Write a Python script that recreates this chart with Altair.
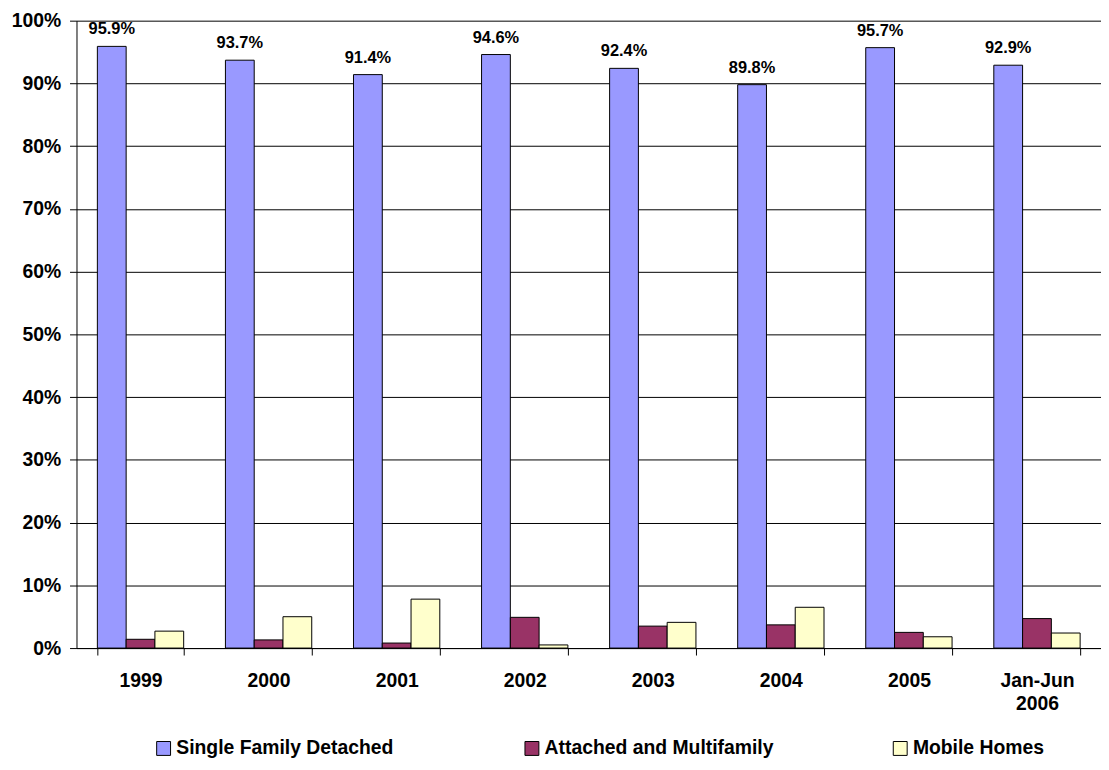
import altair as alt
import pandas as pd

categories = ["1999", "2000", "2001", "2002", "2003", "2004", "2005", "Jan-Jun|2006"]
series = ["Single Family Detached", "Attached and Multifamily", "Mobile Homes"]
single = [95.9, 93.7, 91.4, 94.6, 92.4, 89.8, 95.7, 92.9]
attached = [1.4, 1.3, 0.8, 4.9, 3.5, 3.7, 2.5, 4.7]
mobile = [2.7, 5.0, 7.8, 0.5, 4.1, 6.5, 1.8, 2.4]
colors = ["#9999FF", "#993366", "#FFFFCC"]
y_ticks = [0, 10, 20, 30, 40, 50, 60, 70, 80, 90, 100]

rows = []
for i, c in enumerate(categories):
    for s, vals in zip(series, [single, attached, mobile]):
        rows.append({"cat": c, "series": s, "value": vals[i], "label": f"{vals[i]:.1f}%"})
df = pd.DataFrame(rows)

font = "Liberation Sans"

x = alt.X(
    "cat:N", sort=categories, title=None,
    scale=alt.Scale(paddingInner=0.326, paddingOuter=0.163),
    axis=alt.Axis(
        labelAngle=0, labelFont=font, labelFontSize=19.5, labelFontWeight="bold",
        labelColor="black", labelPadding=17, labelExpr="split(datum.label, '|')",
        labelLineHeight=23, tickBand="extent", tickSize=7, tickColor="black",
        domainColor="black", grid=False, labelBaseline="top",
    ),
)
xo = alt.XOffset("series:N", sort=series, scale=alt.Scale(paddingInner=0, paddingOuter=0))
y = alt.Y(
    "value:Q", title=None, scale=alt.Scale(domain=[0, 100], nice=False),
    axis=alt.Axis(
        values=y_ticks, labelExpr="datum.value + '%'", labelFont=font, labelFontSize=19.5,
        labelFontWeight="bold", labelColor="black", labelPadding=9, tickSize=7,
        tickColor="black", domainColor="black", gridColor="black", gridWidth=1,
        grid=True,
    ),
)

bars = alt.Chart(df).mark_bar(stroke="black", strokeWidth=1).encode(
    x=x, xOffset=xo, y=y,
    color=alt.Color(
        "series:N", sort=series,
        scale=alt.Scale(domain=series, range=colors),
        legend=alt.Legend(
            title=None, orient="none", legendX=78, legendY=723, direction="horizontal",
            columns=3, gridAlign="all", columnPadding=117, symbolType="square",
            symbolSize=196, symbolStrokeColor="black", symbolStrokeWidth=1,
            symbolOpacity=1, labelFont=font, labelFontSize=19.5, labelFontWeight="bold",
            labelColor="black", labelOffset=3, padding=0, labelLimit=400,
        ),
    ),
)

text = alt.Chart(df).transform_filter(alt.datum.series == series[0]).mark_text(
    dy=-12, baseline="alphabetic", font=font, fontSize=16.5, fontWeight="bold", color="black"
).encode(x=x, xOffset=xo, y=y, text="label:N")

chart = (bars + text).properties(
    width=1032, height=632,
    autosize=alt.AutoSizeParams(type="none"),
    padding={"left": 69, "top": 10, "right": 0, "bottom": 112},
).configure_view(stroke=None)

chart.save("out.html", embed_options={"renderer": "svg", "actions": False})
